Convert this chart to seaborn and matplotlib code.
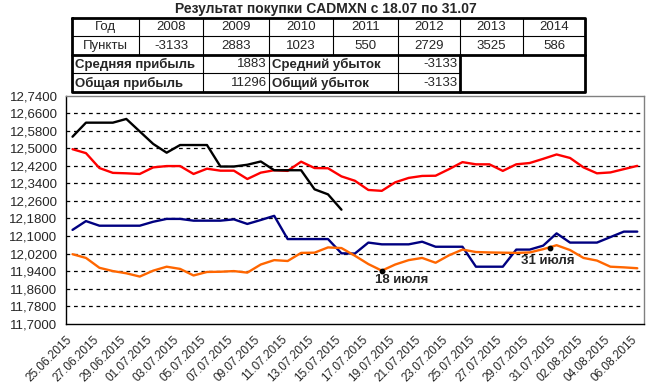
import numpy as np
import pandas as pd
import seaborn as sns
import matplotlib.pyplot as plt
from matplotlib.ticker import FuncFormatter

# dates on the category axis
dates = pd.date_range('2015-06-25', '2015-08-06', freq='D')
date_labels = [d.strftime('%d.%m.%Y') for d in dates]

# series (one value per day)
black = [12.553, 12.617, 12.617, 12.617, 12.634, 12.577, 12.52, 12.48, 12.515, 12.515,
         12.515, 12.417, 12.417, 12.425, 12.44, 12.40, 12.40, 12.40, 12.313, 12.29, 12.22]
red = [12.496, 12.478, 12.41, 12.388, 12.386, 12.383, 12.413, 12.419, 12.419, 12.383,
       12.407, 12.398, 12.398, 12.36, 12.389, 12.40, 12.397, 12.439, 12.41, 12.409,
       12.372, 12.352, 12.31, 12.306, 12.345, 12.365, 12.374, 12.375, 12.405, 12.437,
       12.427, 12.427, 12.397, 12.427, 12.433, 12.452, 12.472, 12.456, 12.413, 12.386,
       12.39, 12.405, 12.42]
navy = [12.128, 12.168, 12.147, 12.147, 12.147, 12.147, 12.165, 12.178, 12.178, 12.17,
        12.17, 12.17, 12.176, 12.155, 12.173, 12.192, 12.086, 12.086, 12.086, 12.086,
        12.021, 12.02, 12.07, 12.062, 12.062, 12.062, 12.074, 12.051, 12.051, 12.051,
        11.96, 11.96, 11.96, 12.038, 12.038, 12.056, 12.112, 12.07, 12.07, 12.07,
        12.095, 12.12, 12.12]
orange = [12.017, 12.0, 11.955, 11.94, 11.93, 11.915, 11.942, 11.96, 11.95, 11.92,
          11.936, 11.937, 11.94, 11.933, 11.97, 11.99, 11.986, 12.023, 12.024, 12.048,
          12.045, 12.01, 11.972, 11.942, 11.97, 11.99, 12.0, 11.978, 12.012, 12.038,
          12.027, 12.025, 12.024, 12.023, 12.025, 12.04, 12.058, 12.036, 12.0, 11.988,
          11.96, 11.957, 11.953]

# marked points
mark_days = [23, 35.5]
mark_vals = [11.942, 12.047]
mark_text = ['18 июля', '31 июля']

# table
years = ['2008', '2009', '2010', '2011', '2012', '2013', '2014']
points = ['-3133', '2883', '1023', '550', '2729', '3525', '586']
avg_profit, avg_loss = '1883', '-3133'
total_profit, total_loss = '11296', '-3133'

title = 'Результат покупки CADMXN с 18.07 по 31.07'

sns.set_style('white')
plt.rcParams['font.family'] = ['Liberation Sans', 'DejaVu Sans']

series = {'navy': navy, 'orange': orange, 'red': red, 'black': black}
colors = {'navy': '#000080', 'orange': '#ff6600', 'red': '#ff0000', 'black': '#000000'}
rows = []
for name, vals in series.items():
    for i, v in enumerate(vals):
        rows.append({'day': i + 0.5, 'value': v, 'series': name})
df = pd.DataFrame(rows)

fig = plt.figure(figsize=(6.5, 3.85), dpi=100)
ax = fig.add_axes([65.8 / 650, 1 - 323.7 / 385, (644 - 65.8) / 650, (323.7 - 95.7) / 385])

yticks = np.arange(11.70, 12.7401, 0.08)
for y in yticks[1:-1]:
    ax.axhline(y, color='black', lw=0.9, ls=(0, (3, 3)), zorder=1)

sns.lineplot(data=df, x='day', y='value', hue='series', palette=colors,
             estimator=None, sort=False, lw=1.7, legend=False, ax=ax, zorder=3)

ax.scatter([d + 0.5 for d in mark_days], mark_vals, s=10, color='black', zorder=4)
offsets = [(14, -7), (-1.5, -9.5)]
for d, v, t, off in zip(mark_days, mark_vals, mark_text, offsets):
    ax.annotate(t, (d + 0.5, v), xytext=off, textcoords='offset points',
                ha='center', va='center', fontsize=9.5, fontweight='bold')

ax.set_xlim(0, 43)
ax.set_ylim(11.70, 12.74)
ax.set_yticks(yticks)
ax.yaxis.set_major_formatter(FuncFormatter(lambda v, p: f'{v:.4f}'.replace('.', ',')))
ax.set_xticks(np.arange(0, 43, 2))
ax.set_xticklabels(date_labels[::2], rotation=45, ha='right', rotation_mode='anchor',
                   fontsize=8.5)
ax.tick_params(axis='y', labelsize=9.5, direction='out', length=4, width=1, color='black', pad=2)
ax.tick_params(axis='x', direction='out', length=4, width=1, color='black', pad=3)
ax.set_xlabel('')
ax.set_ylabel('')
for s in ['left', 'bottom']:
    ax.spines[s].set_color('black')
    ax.spines[s].set_linewidth(1)
for s in ['top', 'right']:
    ax.spines[s].set_color('#808080')
    ax.spines[s].set_linewidth(1)

# title and table drawn in pixel coordinates
tb = fig.add_axes([0, 0, 1, 1], zorder=5)
tb.set_xlim(0, 650)
tb.set_ylim(385, 0)
tb.axis('off')
tb.patch.set_alpha(0)

tb.text(326, 9, title, ha='center', va='center', fontsize=10, fontweight='bold')

cx = [72, 139, 203, 269, 333, 398, 460, 523, 585]
ry = [17.5, 36, 54.5, 73, 92]
tb.add_patch(plt.Rectangle((cx[0], ry[0]), cx[-1] - cx[0], ry[-1] - ry[0],
                           facecolor='white', edgecolor='none', zorder=0))
thick, thin = 2, 0.8
tb.plot([cx[0], cx[-1], cx[-1], cx[0], cx[0]], [ry[0], ry[0], ry[-1], ry[-1], ry[0]],
        color='black', lw=thick)
tb.plot([cx[0], cx[-1]], [ry[1], ry[1]], color='black', lw=thin)
tb.plot([cx[0], cx[-1]], [ry[2], ry[2]], color='black', lw=thick)
tb.plot([cx[0], cx[6]], [ry[3], ry[3]], color='black', lw=thin)
for x in cx[1:-1]:
    tb.plot([x, x], [ry[0], ry[2]], color='black', lw=thin)
for x in [cx[2], cx[3], cx[5]]:
    tb.plot([x, x], [ry[2], ry[4]], color='black', lw=thin)
tb.plot([cx[6], cx[6]], [ry[2], ry[4]], color='black', lw=thick)

head = ['Год'] + years
vals = ['Пункты'] + points
for j in range(8):
    xm = (cx[j] + cx[j + 1]) / 2
    tb.text(xm, (ry[0] + ry[1]) / 2 + 0.5, head[j], ha='center', va='center', fontsize=9.5)
    tb.text(xm, (ry[1] + ry[2]) / 2 + 0.5, vals[j], ha='center', va='center', fontsize=9.5)

lower = [('Средняя прибыль', avg_profit, 'Средний убыток', avg_loss),
         ('Общая прибыль', total_profit, 'Общий убыток', total_loss)]
for k, (l1, v1, l2, v2) in enumerate(lower):
    ym = (ry[2 + k] + ry[3 + k]) / 2 + 0.5
    tb.text(cx[0] + 3, ym, l1, ha='left', va='center', fontsize=9.5, fontweight='bold')
    tb.text(cx[3] - 2, ym, v1, ha='right', va='center', fontsize=9.5)
    tb.text(cx[3] + 3, ym, l2, ha='left', va='center', fontsize=9.5, fontweight='bold')
    tb.text(cx[6] - 2, ym, v2, ha='right', va='center', fontsize=9.5)

fig.savefig('out.png', dpi=100)
